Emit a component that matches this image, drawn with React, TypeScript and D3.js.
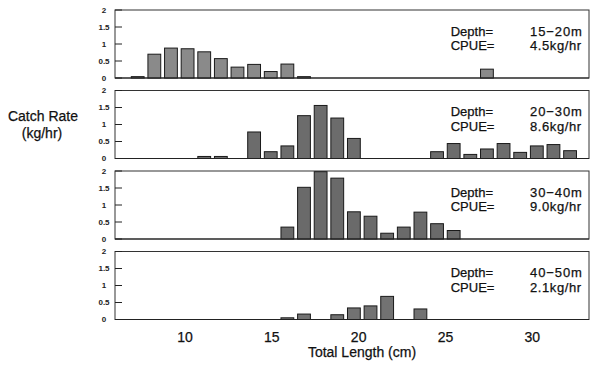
import React from "react";
import * as d3 from "d3";

// Length bins (cm) shown on the chart
const bins = d3.range(7, 34);

// Catch rate (kg/hr) per bin, one array per depth stratum
const depth15_20 = [0.04, 0.70, 0.88, 0.86, 0.77, 0.57, 0.32, 0.40, 0.19, 0.41, 0.04, 0, 0, 0, 0, 0, 0, 0, 0, 0, 0, 0.26, 0, 0, 0, 0, 0];
const depth20_30 = [0, 0, 0, 0, 0.06, 0.06, 0, 0.78, 0.20, 0.37, 1.26, 1.56, 1.19, 0.59, 0, 0, 0, 0, 0.20, 0.44, 0.12, 0.28, 0.44, 0.18, 0.37, 0.41, 0.23];
const depth30_40 = [0, 0, 0, 0, 0, 0, 0, 0, 0, 0.35, 1.52, 1.98, 1.79, 0.80, 0.67, 0.17, 0.35, 0.79, 0.45, 0.25, 0, 0, 0, 0, 0, 0, 0];
const depth40_50 = [0, 0, 0, 0, 0, 0, 0, 0, 0, 0.05, 0.16, 0, 0.14, 0.34, 0.40, 0.68, 0, 0.31, 0, 0, 0, 0, 0, 0, 0, 0, 0];

const depthLabels = ["15\u221220m", "20\u221230m", "30\u221240m", "40\u221250m"];
const cpueLabels = ["4.5kg/hr", "8.6kg/hr", "9.0kg/hr", "2.1kg/hr"];
const seriesList = [depth15_20, depth20_30, depth30_40, depth40_50];
const barFills = ["#8a8a8a", "#6c6c6c", "#6a6a6a", "#727272"];

const yTicks = [0, 0.5, 1, 1.5, 2];
const xTicks = [10, 15, 20, 25, 30];

const W = 600;
const H = 367;
const plotLeft = 115;
const plotRight = 589;
const panelTop0 = 10;
const panelStep = 80.5;
const panelH = 68;
const font = "'Liberation Sans', Arial, Helvetica, sans-serif";

export default function App() {
  const step = 16.63;
  const firstCenter = 137.7;
  const xBand = d3
    .scaleBand<number>()
    .domain(bins)
    .range([firstCenter - step / 2, firstCenter - step / 2 + step * bins.length])
    .paddingInner(0.23)
    .paddingOuter(0.115);
  const xLin = d3.scaleLinear().domain([10, 30]).range([185, 532.3]);
  const txt = { fill: "#111", stroke: "#111", strokeWidth: 0.25 };

  return (
    <svg
      width={W}
      height={H}
      style={{ position: "absolute", left: 0, top: 0, background: "#fff" }}
      fontFamily={font}
    >
      <rect x={0} y={0} width={W} height={H} fill="#fff" />
      {seriesList.map((vals, i) => {
        const top = panelTop0 + i * panelStep;
        const y = d3.scaleLinear().domain([0, 2]).range([top + panelH, top]);
        return (
          <g key={i}>
            <rect
              x={plotLeft}
              y={top}
              width={plotRight - plotLeft}
              height={panelH}
              fill="none"
              stroke="#333"
              strokeWidth={1}
            />
            {yTicks.map((t) => (
              <g key={t}>
                <line x1={plotLeft} x2={plotLeft + 7} y1={y(t)} y2={y(t)} stroke="#222" strokeWidth={1} />
                <text
                  x={104}
                  y={y(t)}
                  dy="0.35em"
                  textAnchor="middle"
                  fontSize={8}
                  fontWeight="bold"
                  fill="#222"
                >
                  {t}
                </text>
              </g>
            ))}
            {vals.map((v, j) =>
              v > 0 ? (
                <rect
                  key={j}
                  x={xBand(bins[j])}
                  y={y(v)}
                  width={xBand.bandwidth()}
                  height={y(0) - y(v)}
                  fill={barFills[i]}
                  stroke="#1a1a1a"
                  strokeWidth={1}
                />
              ) : null
            )}
            <line x1={plotLeft} x2={plotRight} y1={y(0)} y2={y(0)} stroke="#222" strokeWidth={1.2} />
            <text x={450.7} y={top + 25.7} fontSize={13} {...txt}>
              Depth=
            </text>
            <text x={450.7} y={top + 40} fontSize={13} {...txt}>
              CPUE=
            </text>
            <text x={530} y={top + 25.7} fontSize={13} letterSpacing={0.9} {...txt}>
              {depthLabels[i]}
            </text>
            <text x={530} y={top + 40} fontSize={13} letterSpacing={0.6} {...txt}>
              {cpueLabels[i]}
            </text>
          </g>
        );
      })}
      {xTicks.map((t) => (
        <text key={t} x={xLin(t)} y={341.7} textAnchor="middle" fontSize={14} {...txt}>
          {t}
        </text>
      ))}
      <text x={362} y={356.5} textAnchor="middle" fontSize={14} {...txt}>
        Total Length (cm)
      </text>
      <text x={43} y={120.7} textAnchor="middle" fontSize={14} {...txt}>
        Catch Rate
      </text>
      <text x={42} y={138} textAnchor="middle" fontSize={14} {...txt}>
        (kg/hr)
      </text>
    </svg>
  );
}
